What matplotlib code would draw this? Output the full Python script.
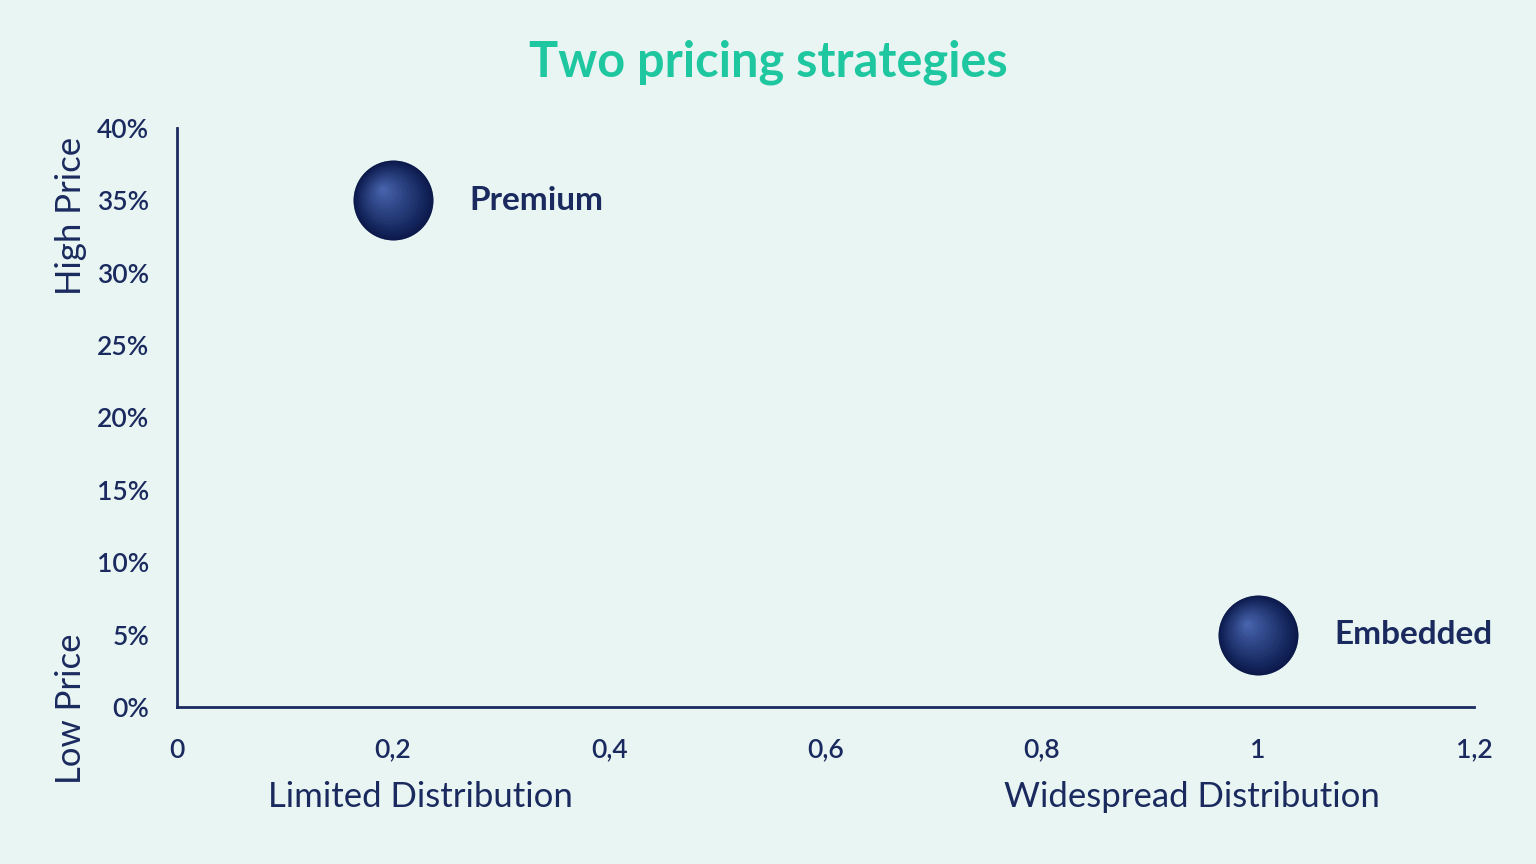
import numpy as np
import matplotlib.pyplot as plt
from matplotlib.colors import to_rgb
from matplotlib.transforms import offset_copy
from matplotlib.ticker import FuncFormatter

# data
names = ['Premium', 'Embedded']
distribution = [0.2, 1.0]
price = [0.35, 0.05]
x_ticks = [0, 0.2, 0.4, 0.6, 0.8, 1.0, 1.2]
y_ticks = [0, 0.05, 0.10, 0.15, 0.20, 0.25, 0.30, 0.35, 0.40]

bg = '#e8f5f3'
navy = '#1b2a5e'
teal = '#1fc7a0'

plt.rcParams['font.family'] = ['Lato', 'DejaVu Sans']

fig = plt.figure(figsize=(15.36, 8.64), dpi=100, facecolor=bg)
ax = fig.add_axes([0.1152, 0.1817, 0.8444, 0.6702])
ax.set_facecolor(bg)

# sphere look: dark base, then smaller lighter discs shifted up-left
ax.scatter(distribution, price, s=3300, color='#0b1845', zorder=3, linewidths=0)
dark = np.array(to_rgb('#0d1c50'))
light = np.array(to_rgb('#4a66b0'))
n = 24
for i in range(n):
    t = i / (n - 1)
    diam = 57.5 * (1 - t) + 3 * t
    col = dark * (1 - t) + light * t
    tr = offset_copy(ax.transData, fig=fig, x=-11 * t, y=11 * t, units='dots')
    ax.scatter(distribution, price, s=diam ** 2, color=col, alpha=0.6,
               zorder=4, linewidths=0, transform=tr)

for name, xv, yv in zip(names, distribution, price):
    ax.annotate(name, (xv, yv), xytext=(55, 0), textcoords='offset points',
                ha='left', va='center', fontsize=24, fontweight='bold',
                color=navy)

ax.set_xlim(0, 1.2)
ax.set_ylim(0, 0.40)
ax.set_xticks(x_ticks)
ax.set_yticks(y_ticks)
ax.xaxis.set_major_formatter(FuncFormatter(
    lambda v, p: ('%g' % round(v, 1)).replace('.', ',')))
ax.yaxis.set_major_formatter(FuncFormatter(lambda v, p: '%d%%' % round(v * 100)))
ax.tick_params(length=0, labelsize=19, labelcolor=navy, pad=22)
ax.tick_params(axis='y', pad=20)
for lab in ax.get_xticklabels() + ax.get_yticklabels():
    lab.set_fontweight('semibold')

for side in ['top', 'right']:
    ax.spines[side].set_visible(False)
for side in ['left', 'bottom']:
    ax.spines[side].set_color(navy)
    ax.spines[side].set_linewidth(2)

fig.text(0.5, 0.928, 'Two pricing strategies', ha='center', va='center',
         fontsize=35, fontweight='bold', color=teal)
fig.text(0.274, 0.077, 'Limited Distribution', ha='center', va='center',
         fontsize=25, color=navy)
fig.text(0.776, 0.077, 'Widespread Distribution', ha='center', va='center',
         fontsize=25, color=navy)
fig.text(0.046, 0.18, 'Low Price', ha='center', va='center', rotation=90,
         fontsize=25, color=navy)
fig.text(0.046, 0.75, 'High Price', ha='center', va='center', rotation=90,
         fontsize=25, color=navy)

fig.savefig('out.png', dpi=100, facecolor=bg)
